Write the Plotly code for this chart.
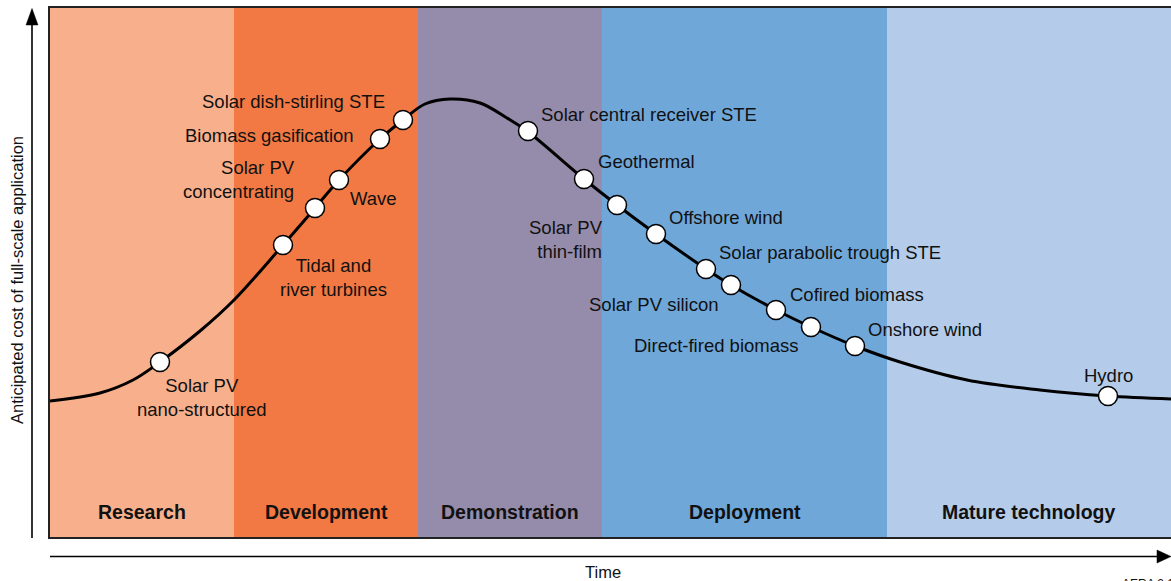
import plotly.graph_objects as go

# ---------------- data ----------------
# Learning curve (time index vs. relative anticipated cost)
curve_time = [0, 50, 83, 110, 150, 184, 233, 265, 289, 330, 353, 375, 400, 430, 457, 477,
              534, 567, 606, 656, 681, 726, 761, 805, 850, 917, 990, 1057, 1121]
curve_cost = [136, 144, 157, 175, 206, 237, 292, 329, 357, 398, 417, 433, 438, 434, 419, 406,
              358, 332, 303, 268, 252, 227, 210, 191, 175, 157, 147, 141, 138]

technologies = ["Solar PV<br>nano-structured", "Tidal and<br>river turbines", "Solar PV<br>concentrating",
                "Wave", "Biomass gasification", "Solar dish-stirling STE", "Solar central receiver STE",
                "Geothermal", "Solar PV<br>thin-film", "Offshore wind", "Solar parabolic trough STE",
                "Solar PV silicon", "Cofired biomass", "Direct-fired biomass", "Onshore wind", "Hydro"]
tech_time = [110, 233, 265, 289, 330, 353, 478, 534, 567, 606, 656, 681, 726, 761, 805, 1058]
tech_cost = [175, 292, 329, 357, 398, 417, 406, 358, 332, 303, 268, 252, 227, 210, 191, 141]

phases = ["Research", "Development", "Demonstration", "Deployment", "Mature technology"]
phase_edges = [0, 184, 368, 552, 837, 1121]

# ---------------- layout / styling ----------------
phase_colors = ["#F8B08C", "#F27943", "#958BAA", "#70A7D9", "#B4CCEA"]
# label placement: (x, y, xanchor, align)
label_place = [
    (152, 140, "center", "center"),
    (283, 260, "center", "center"),
    (247, 358, "right", "right"),
    (323, 339, "center", "center"),
    (306, 402, "right", "right"),
    (337, 436, "right", "right"),
    (489, 423, "left", "left"),
    (546, 376, "left", "left"),
    (555, 298, "right", "right"),
    (617, 320, "left", "left"),
    (667, 285, "left", "left"),
    (604, 233, "center", "center"),
    (738, 243, "left", "left"),
    (666, 192, "center", "center"),
    (816, 208, "left", "left"),
    (1058, 162, "center", "center"),
]

W, H = 1171, 581
ML, MR, MT, MB = 50, 0, 8, 44
PW, PH = W - ML - MR, H - MT - MB
FONT = "Liberation Sans, Arial, Helvetica, sans-serif"


def px(x):
    """window pixel x -> paper x"""
    return (x - ML) / PW


def py(y):
    """window pixel y -> paper y"""
    return (H - MB - y) / PH


fig = go.Figure()

fig.add_trace(go.Scatter(x=curve_time, y=curve_cost, mode="lines",
                         line=dict(color="black", width=3, shape="spline", smoothing=1.0),
                         hoverinfo="skip", showlegend=False))
fig.add_trace(go.Scatter(x=tech_time, y=tech_cost, mode="markers",
                         marker=dict(size=19, color="white", line=dict(color="black", width=1.5)),
                         text=technologies, hoverinfo="text", showlegend=False))

shapes = []
for i, name in enumerate(phases):
    shapes.append(dict(type="rect", xref="x", yref="paper", x0=phase_edges[i], x1=phase_edges[i + 1],
                       y0=0, y1=1, fillcolor=phase_colors[i], line=dict(width=0), layer="below"))

# axis arrows
shapes.append(dict(type="line", xref="paper", yref="paper", x0=px(32), x1=px(32), y0=py(538), y1=py(22),
                   line=dict(color="black", width=1.6)))
shapes.append(dict(type="path", xref="paper", yref="paper",
                   path=f"M {px(26)} {py(25)} L {px(38)} {py(25)} L {px(32)} {py(8.5)} Z",
                   fillcolor="black", line=dict(color="black", width=0.5)))
shapes.append(dict(type="line", xref="paper", yref="paper", x0=px(50), x1=px(1160), y0=py(556.5), y1=py(556.5),
                   line=dict(color="black", width=1.6)))
shapes.append(dict(type="path", xref="paper", yref="paper",
                   path=f"M {px(1157)} {py(550)} L {px(1157)} {py(563)} L {px(1171)} {py(556.5)} Z",
                   fillcolor="black", line=dict(color="black", width=0.5)))

annotations = []
for name, (lx, ly, xa, al) in zip(technologies, label_place):
    annotations.append(dict(x=lx, y=ly, xref="x", yref="y", text=name, showarrow=False,
                            xanchor=xa, yanchor="middle", align=al,
                            font=dict(family=FONT, size=18.5, color="#111111")))
for i, name in enumerate(phases):
    annotations.append(dict(x=(phase_edges[i] + phase_edges[i + 1]) / 2, y=py(512), xref="x", yref="paper",
                            text=f"<b>{name}</b>", showarrow=False, xanchor="center", yanchor="middle",
                            font=dict(family=FONT, size=19.5, color="#111111")))
annotations.append(dict(x=px(603), y=py(572), xref="paper", yref="paper", text="Time", showarrow=False,
                        xanchor="center", yanchor="middle", font=dict(family=FONT, size=16.5, color="#111111")))
annotations.append(dict(x=px(17), y=py(280), xref="paper", yref="paper",
                        text="Anticipated cost of full-scale application", textangle=-90, showarrow=False,
                        xanchor="center", yanchor="middle", font=dict(family=FONT, size=16.5, color="#111111")))
annotations.append(dict(x=px(1120), y=py(575), xref="paper", yref="paper", text="AERA 2.1", showarrow=False,
                        xanchor="left", yanchor="top", font=dict(family=FONT, size=12, color="#111111")))

fig.update_layout(
    width=W, height=H,
    margin=dict(l=ML, r=MR, t=MT, b=MB, pad=0),
    paper_bgcolor="white", plot_bgcolor="white",
    shapes=shapes, annotations=annotations,
    xaxis=dict(range=[0, phase_edges[-1]], showgrid=False, zeroline=False, showticklabels=False, ticks="",
               showline=True, mirror=True, linecolor="#222222", linewidth=1.5, fixedrange=True),
    yaxis=dict(range=[0, 529], showgrid=False, zeroline=False, showticklabels=False, ticks="",
               showline=True, mirror=False, linecolor="#222222", linewidth=1.5, fixedrange=True),
    showlegend=False,
)

# remove the default page margin so the 1171x581 figure fills the window exactly
fig.write_html("out.html",
               config={"displayModeBar": False},
               post_script="document.body.style.margin='0';"
                           "document.documentElement.style.overflow='hidden';"
                           "document.body.style.overflow='hidden';")
